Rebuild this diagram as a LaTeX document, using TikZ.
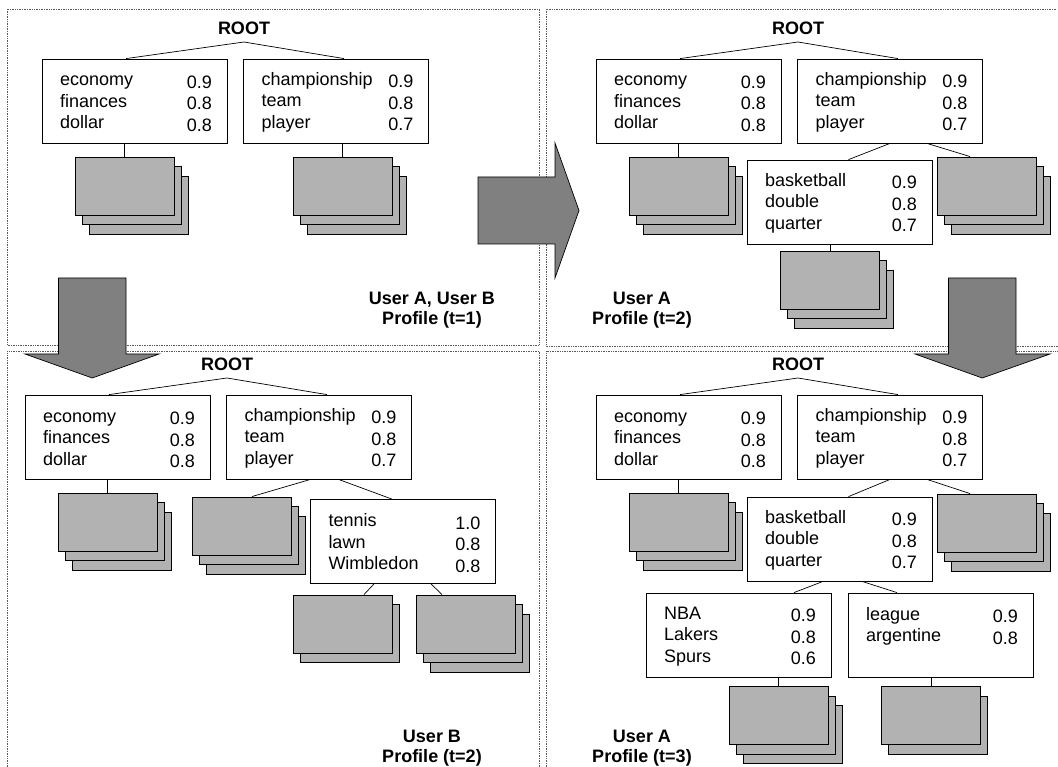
\documentclass[tikz,border=0pt]{standalone}
\usepackage{fontspec}
\setmainfont{Liberation Sans}
\usetikzlibrary{calc,positioning}
\definecolor{docgray}{gray}{0.7}
\definecolor{arrowgray}{gray}{0.5}
\definecolor{panelgray}{gray}{0.35}
\newcommand{\kw}[2]{\rule[-2pt]{0pt}{17pt}\hspace*{3pt}#1\hfill\smash{\raisebox{-2.5pt}{#2}}}
\newcommand{\basetree}[1]{%
	\node[rootlbl] (#1-root) at (244,42) {ROOT};
	\node[kwbox] (#1-eco) at (134.5,101) {\kw{economy}{0.9}\\\kw{finances}{0.8}\\\kw{dollar}{0.8}};
	\node[kwbox] (#1-sport) at (336,101) {\kw{championship}{0.9}\\\kw{team}{0.8}\\\kw{player}{0.7}};
	\node[docs3] (#1-ecodocs) at (124.5,186) {};
	\draw[tree] (#1-root.south) -- ([xshift=-8.5pt]#1-eco.north);
	\draw[tree] (#1-root.south) -- ([xshift=8pt]#1-sport.north);
	\draw[tree] (#1-eco.south -| #1-ecodocs.north) -- (#1-ecodocs.north);
}

\begin{document}
\begin{tikzpicture}[x=1pt,y=-1pt,
	rootlbl/.style={font=\fontsize{18}{20}\selectfont\bfseries, anchor=south, inner xsep=0pt, inner ysep=7.5pt},
	userlbl/.style={font=\fontsize{18}{20.5}\selectfont\bfseries, align=center},
	kwbox/.style={draw, fill=white, line width=0.8pt, font=\fontsize{18}{21.5}\selectfont,
		text width=155pt, inner xsep=15pt, inner ysep=2pt, minimum height=84pt, align=left},
	doc/.style={draw, fill=docgray, line width=0.9pt, minimum width=99pt, minimum height=58pt, inner sep=0pt},
	back/.style={preaction={draw, fill=docgray, line width=0.9pt, transform canvas={shift={(#1)}}}},
	docs2/.style={doc, back={7pt,-9.5pt}},
	docs3/.style={doc, back={14pt,-19pt}, back={7pt,-9.5pt}},
	tree/.style={line width=0.7pt},
	panel/.style={draw=panelgray, densely dotted, line width=0.7pt},
	bigarrow/.style={draw, fill=arrowgray, line width=0.7pt, line join=miter}]
\useasboundingbox (0,0) rectangle (1058,767);
\clip (0,0) rectangle (1058,767);

% panels
\draw[panel] (7,9) rectangle (539,345);
\draw[panel] (1056,9) -| (546,346) -- (1058,346);
\draw[panel] (7,767) |- (539,351) -- (539,767);
\draw[panel] (546,767) |- (1058,351);

% t=1
\begin{scope}
	\basetree{a}
	\node[docs3] (a-sportdocs) at (342.5,186) {};
	\draw[tree] (a-sport.south -| a-sportdocs.north) -- (a-sportdocs.north);
	\node[userlbl] (a-user) at (432,310) {User A, User B\\Profile (t=1)};
\end{scope}

% user A, t=2
\begin{scope}[shift={(554,0)}]
	\basetree{b}
	\node[kwbox] (b-bask) at (285.5,202) {\kw{basketball}{0.9}\\\kw{double}{0.8}\\\kw{quarter}{0.7}};
	\node[docs3] (b-sportdocs) at (433,186) {};
	\node[docs3] (b-baskdocs) at (276,280) {};
	\draw[tree] (b-sport.south) -- ([xshift=9pt]b-bask.north);
	\draw[tree] ([xshift=37pt]b-sport.south) -- ([xshift=-17pt]b-sportdocs.north);
	\draw[tree] (b-bask.south -| b-baskdocs.north) -- (b-baskdocs.north);
	\node[userlbl] (b-user) at (88,310) {User A\\Profile (t=2)};
\end{scope}

% user B, t=2
\begin{scope}[shift={(-17,336)}]
	\basetree{c}
	\node[docs3] (c-sportdocs) at (259,190) {};
	\node[kwbox] (c-tennis) at (420,205.5) {\kw{tennis}{1.0}\\\kw{lawn}{0.8}\\\kw{Wimbledon}{0.8}};
	\node[docs2] (c-tennisdocs1) at (360,288) {};
	\node[docs3] (c-tennisdocs2) at (483,288) {};
	\draw[tree] ([xshift=-8.5pt]c-sport.south) -- ([xshift=10pt]c-sportdocs.north);
	\draw[tree] ([xshift=19.5pt]c-sport.south) -- ([xshift=-11pt]c-tennis.north);
	\draw[tree] ([xshift=-29pt]c-tennis.south) -- ([xshift=21pt]c-tennisdocs1.north);
	\draw[tree] ([xshift=28pt]c-tennis.south) -- ([xshift=-24pt]c-tennisdocs2.north);
	\node[userlbl] (c-user) at (449,412.4) {User B\\Profile (t=2)};
\end{scope}

% user A, t=3
\begin{scope}[shift={(554,336)}]
	\basetree{d}
	\node[kwbox] (d-bask) at (285.5,203) {\kw{basketball}{0.9}\\\kw{double}{0.8}\\\kw{quarter}{0.7}};
	\node[docs3] (d-sportdocs) at (433,187) {};
	\node[kwbox] (d-nba) at (184.5,299) {\kw{NBA}{0.9}\\\kw{Lakers}{0.8}\\\kw{Spurs}{0.6}};
	\node[kwbox] (d-league) at (386.5,299) {\kw{league}{0.9}\\\kw{argentine}{0.8}\\\kw{}{}};
	\node[docs3] (d-nbadocs) at (224.5,379.5) {};
	\node[docs2] (d-leaguedocs) at (377,379.5) {};
	\draw[tree] (d-sport.south) -- ([xshift=9pt]d-bask.north);
	\draw[tree] ([xshift=37pt]d-sport.south) -- ([xshift=-17pt]d-sportdocs.north);
	\draw[tree] ([xshift=-16.5pt]d-bask.south) -- ([xshift=55.5pt]d-nba.north);
	\draw[tree] ([xshift=22.5pt]d-bask.south) -- ([xshift=-43.5pt]d-league.north);
	\draw[tree] (d-nba.south -| d-nbadocs.north) -- (d-nbadocs.north);
	\draw[tree] (d-league.south -| d-leaguedocs.north) -- (d-leaguedocs.north);
	\node[userlbl] (d-user) at (88,412.4) {User A\\Profile (t=3)};
\end{scope}

% arrows between the profiles
\draw[bigarrow] (478,177) -- (555,177) -- (555,143) -- (579,210.5) -- (555,278) -- (555,244) -- (478,244) -- cycle;
\draw[bigarrow] (58.5,278) -- (126,278) -- (126,354) -- (159,354) -- (92.25,378) -- (25,354) -- (58.5,354) -- cycle;
\draw[bigarrow] (948.5,278) -- (1016,278) -- (1016,354) -- (1050,354) -- (982.25,378) -- (915,354) -- (948.5,354) -- cycle;
\end{tikzpicture}
\end{document}
